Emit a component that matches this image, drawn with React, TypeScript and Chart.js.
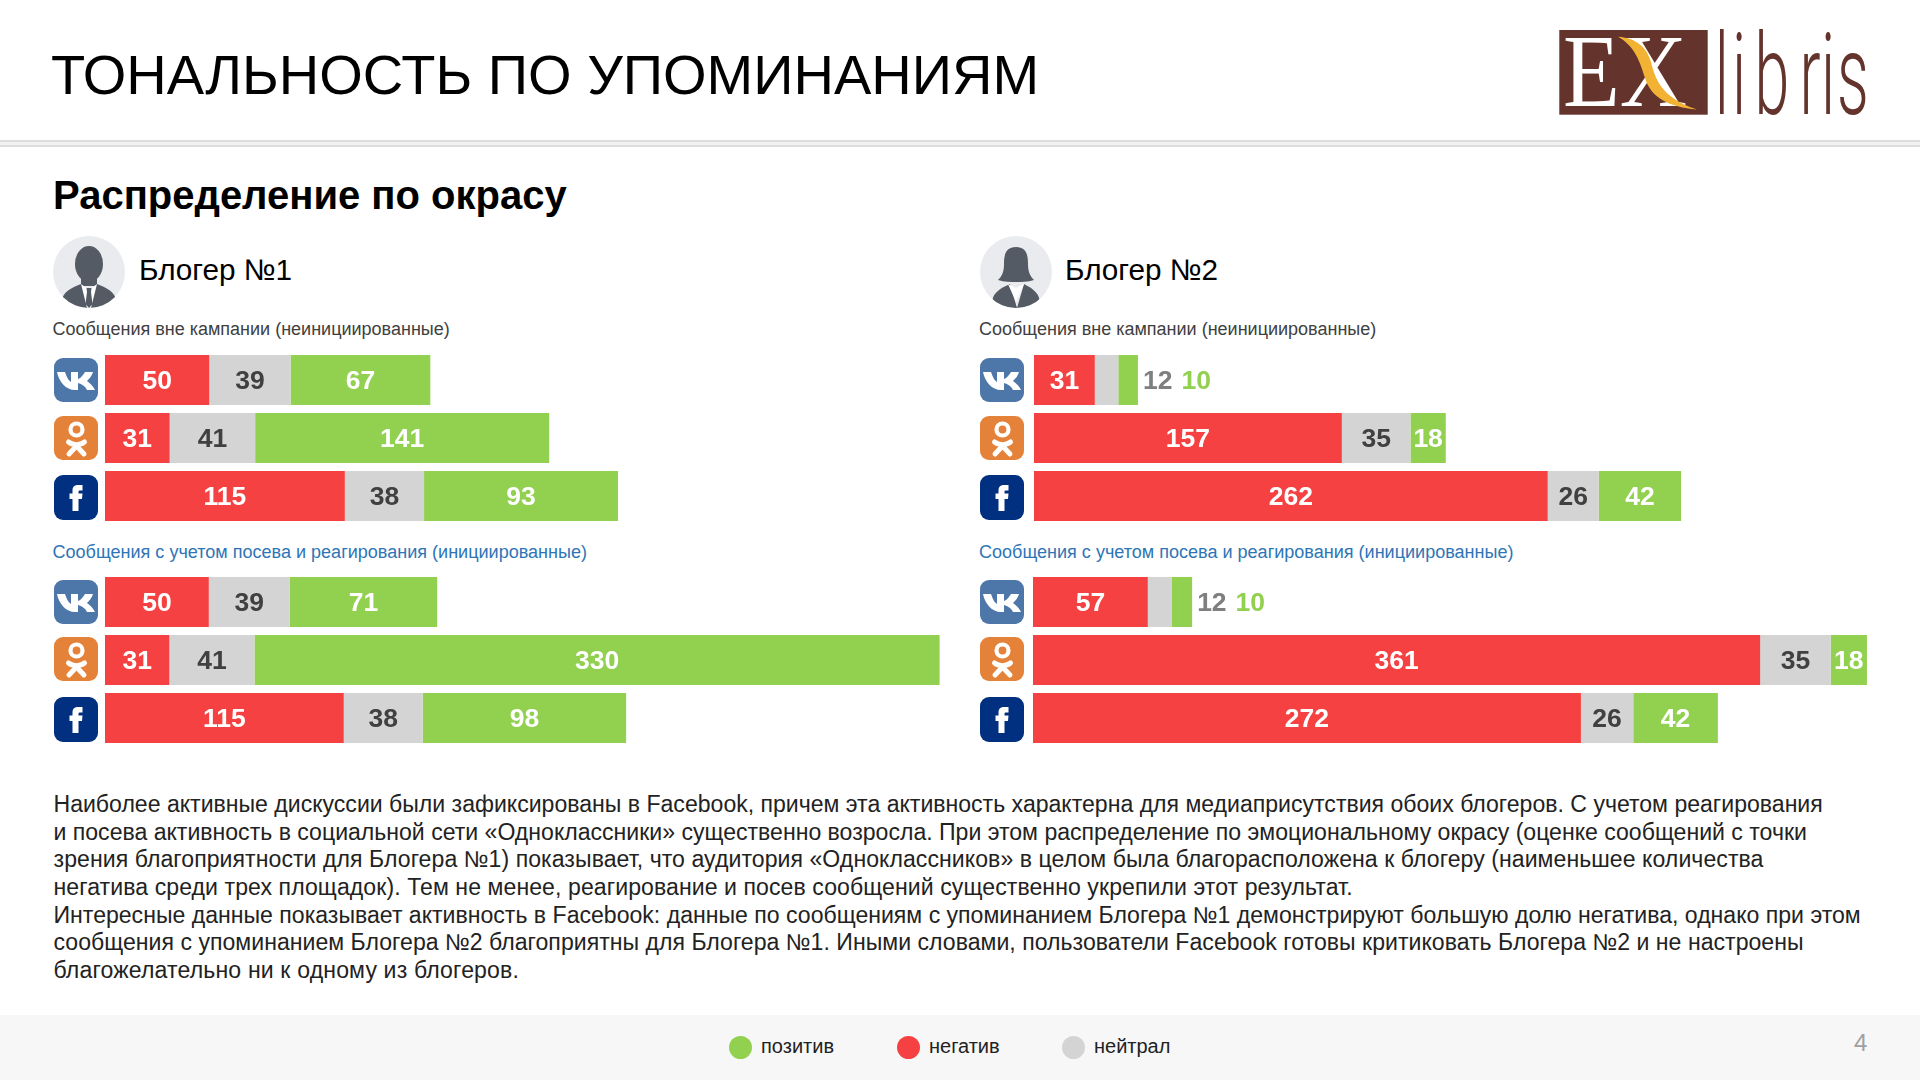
import React, { useEffect, useRef } from "react";
import { Chart, registerables } from "chart.js";

Chart.register(...registerables);

const FONT = '"Liberation Sans", Arial, sans-serif';

const platforms = ["ВКонтакте", "Одноклассники", "Facebook"];
const seriesNames = ["негатив", "нейтрал", "позитив"];
const seriesColors = ["#F54141", "#D4D4D4", "#92D050"];

const blogger1OrganicNegative = [50, 31, 115];
const blogger1OrganicNeutral = [39, 41, 38];
const blogger1OrganicPositive = [67, 141, 93];
const blogger1SeededNegative = [50, 31, 115];
const blogger1SeededNeutral = [39, 41, 38];
const blogger1SeededPositive = [71, 330, 98];

const blogger2OrganicNegative = [31, 157, 262];
const blogger2OrganicNeutral = [12, 35, 26];
const blogger2OrganicPositive = [10, 18, 42];
const blogger2SeededNegative = [57, 361, 272];
const blogger2SeededNeutral = [12, 35, 26];
const blogger2SeededPositive = [10, 18, 42];

const axisMaxes = [402.8, 404.6, 428.4, 417];

const paragraphLines = [
  "Наиболее активные дискуссии были зафиксированы в Facebook, причем эта активность характерна для медиаприсутствия обоих блогеров. С учетом реагирования",
  "и посева активность в социальной сети «Одноклассники» существенно возросла. При этом распределение по эмоциональному окрасу (оценке сообщений с точки",
  "зрения благоприятности для Блогера №1) показывает, что аудитория «Одноклассников» в целом была благорасположена к блогеру (наименьшее количества",
  "негатива среди трех площадок). Тем не менее, реагирование и посев сообщений существенно укрепили этот результат.",
  "Интересные данные показывает активность в Facebook: данные по сообщениям с упоминанием Блогера №1 демонстрируют большую долю негатива, однако при этом",
  "сообщения с упоминанием Блогера №2 благоприятны для Блогера №1. Иными словами, пользователи Facebook готовы критиковать Блогера №2 и не настроены",
  "благожелательно ни к одному из блогеров.",
];
const paragraphTracking = [0, 0, 0.06, 0.078, 0.005, 0.025, 0.15];

const insideLabelColors = ["#FFFFFF", "#404040", "#FFFFFF"];
const outsideLabelColors = ["#F54141", "#7F7F7F", "#92D050"];

const segmentLabels = {
  id: "segmentLabels",
  afterDatasetsDraw(chart: any) {
    const { ctx } = chart;
    ctx.save();
    ctx.font = `bold 26.5px ${FONT}`;
    ctx.textBaseline = "middle";
    platforms.forEach((_, row) => {
      let cursor = 0;
      chart.data.datasets.forEach((ds: any, di: number) => {
        const bar = chart.getDatasetMeta(di).data[row];
        cursor = Math.max(cursor, bar.x);
      });
      cursor += 5;
      chart.data.datasets.forEach((ds: any, di: number) => {
        const bar = chart.getDatasetMeta(di).data[row];
        const text = String(ds.data[row]);
        const w = Math.abs(bar.x - bar.base);
        if (w < 30) {
          ctx.textAlign = "left";
          ctx.fillStyle = outsideLabelColors[di];
          ctx.fillText(text, cursor, bar.y + 2);
          cursor += ctx.measureText(text).width + 9;
        } else {
          ctx.textAlign = "center";
          ctx.fillStyle = insideLabelColors[di];
          ctx.fillText(text, (bar.x + bar.base) / 2, bar.y + 2);
        }
      });
    });
    ctx.restore();
  },
};

function StackedBars(props: {
  left: number;
  top: number;
  negative: number[];
  neutral: number[];
  positive: number[];
  axisMax: number;
}) {
  const ref = useRef<HTMLCanvasElement>(null);
  useEffect(() => {
    if (!ref.current) return;
    const values = [props.negative, props.neutral, props.positive];
    const chart = new Chart(ref.current, {
      type: "bar",
      data: {
        labels: platforms,
        datasets: seriesNames.map((name, i) => ({
          label: name,
          data: values[i],
          backgroundColor: seriesColors[i],
          borderWidth: 0,
          barPercentage: 1,
          categoryPercentage: 0.862,
        })),
      },
      options: {
        indexAxis: "y",
        responsive: false,
        animation: false,
        layout: { padding: 0 },
        plugins: { legend: { display: false }, tooltip: { enabled: false } },
        scales: {
          x: { stacked: true, display: false, min: 0, max: props.axisMax },
          y: { stacked: true, display: false },
        },
      },
      plugins: [segmentLabels],
    } as any);
    return () => chart.destroy();
  }, []);
  return (
    <canvas
      ref={ref}
      width={840}
      height={174}
      style={{ position: "absolute", left: props.left, top: props.top, width: 840, height: 174 }}
    />
  );
}

function T(props: {
  x: number;
  base: number;
  size: number;
  color?: string;
  bold?: boolean;
  spacing?: number;
  children: React.ReactNode;
}) {
  return (
    <div
      style={{
        position: "absolute",
        left: props.x,
        top: props.base - props.size,
        height: props.size * 1.25,
        lineHeight: `${props.size * 1.25}px`,
        fontFamily: FONT,
        fontSize: props.size,
        fontWeight: props.bold ? 700 : 400,
        color: props.color ?? "#000",
        letterSpacing: props.spacing ?? 0,
        whiteSpace: "nowrap",
      }}
    >
      {props.children}
    </div>
  );
}

function VkIcon({ x, y }: { x: number; y: number }) {
  return (
    <svg style={{ position: "absolute", left: x, top: y }} width={44} height={44} viewBox="0 0 44 44">
      <rect x="0" y="0" width="44" height="44" rx="9" fill="#4D76A9" />
      <path
        d="M3 14 H11 C13 20 15 23 17 24 V14 H24 V21 C27 20 29 17 31 14 H39 C38 18 35 21 33 23 C36 25 39 28 41 32 H33 C31 28 28 26 24 25 V32 H21 C12 32 5 24 3 14 Z"
        fill="#FFFFFF"
      />
    </svg>
  );
}

function OkIcon({ x, y }: { x: number; y: number }) {
  return (
    <svg style={{ position: "absolute", left: x, top: y }} width={44} height={44} viewBox="0 0 44 44">
      <rect x="0" y="0" width="44" height="44" rx="9" fill="#E5823A" />
      <circle cx="22.5" cy="13.5" r="6" fill="none" stroke="#FFF" strokeWidth="4.2" />
      <path d="M14.5 26 C19 29.5 26 29.5 30.5 26" fill="none" stroke="#FFF" strokeWidth="5" strokeLinecap="round" />
      <path d="M22.5 30 L15 38 M22.5 30 L30 38" fill="none" stroke="#FFF" strokeWidth="5" strokeLinecap="round" />
    </svg>
  );
}

function FbIcon({ x, y }: { x: number; y: number }) {
  return (
    <svg style={{ position: "absolute", left: x, top: y }} width={44} height={45} viewBox="0 0 44 45">
      <rect x="0" y="0" width="44" height="45" rx="9" fill="#00307F" />
      <path
        d="M18.5 36 V24 H15.5 V18.5 H18.5 V15.5 C18.5 11.5 20.5 10 24.5 10 H28.5 V15.5 H26 C24.8 15.5 24.5 16 24.5 17 V18.5 H28.5 L28 24 H24.5 V36 Z"
        fill="#FFFFFF"
      />
    </svg>
  );
}

function IconColumn({ x, ys }: { x: number; ys: number[] }) {
  return (
    <>
      <VkIcon x={x} y={ys[0]} />
      <OkIcon x={x} y={ys[1]} />
      <FbIcon x={x} y={ys[2]} />
    </>
  );
}

function Avatar({ x, female }: { x: number; female?: boolean }) {
  const ink = "#545B65";
  const paper = "#E9EBEE";
  const id = female ? "av2" : "av1";
  return (
    <svg style={{ position: "absolute", left: x, top: 235.7 }} width={72} height={72} viewBox="0 0 72 72">
      <defs>
        <clipPath id={id}>
          <circle cx="36" cy="36" r="36" />
        </clipPath>
      </defs>
      <circle cx="36" cy="36" r="36" fill={paper} />
      <g clipPath={`url(#${id})`}>
        {female ? (
          <>
            <path d="M36 11 C26 11 24 18 24 28 C24 36 22 40 18 44 C24 46 31 46 36 46 C41 46 48 46 54 44 C50 40 48 36 48 28 C48 18 46 11 36 11 Z" fill={ink} />
            <path d="M12 68 C12 58 18 53 30 48 L37 72 L44 48 C54 53 60 58 60 68 C52 76 20 76 12 68 Z" fill={ink} />
            <path d="M28 48 L36 66 L44 48 L36 52 Z" fill="#FFFFFF" />
          </>
        ) : (
          <>
            <ellipse cx="36" cy="28" rx="14" ry="18" fill={ink} />
            <path d="M28 40 H44 V50 H28 Z" fill={ink} />
            <path d="M9 64 C10 56 18 52 28 48 L36 58 L44 48 C54 52 62 56 63 64 C52 76 20 76 9 64 Z" fill={ink} />
            <path d="M28 48 L34 72 H38 L44 48 L36 54 Z" fill="#FFFFFF" />
            <path d="M33.5 52 H38.5 L38 56 L39.5 68 L36 72 L32.5 68 L34 56 Z" fill={ink} />
          </>
        )}
      </g>
    </svg>
  );
}

function Logo() {
  const scale = 0.55;
  const centres = [166.7, 184, 217, 255, 273, 298].map((c) => c / scale).join(" ");
  return (
    <svg style={{ position: "absolute", left: 1555, top: 26 }} width={320} height={94} viewBox="0 0 320 94">
      <rect x="4.3" y="4" width="148.4" height="84.7" fill="#63332C" />
      <text x="8" y="80" fontFamily='"Liberation Serif", serif' fontSize="104" fill="#FFFFFF" textLength="124" lengthAdjust="spacingAndGlyphs">
        EX
      </text>
      <path d="M63 10.7 C82 12 92 22 96 36 C100 52 106 72 142 83.5 C114 81 96 72 90 52 C85 36 80 20 63 10.7 Z" fill="#F2B233" />
      <g transform={`scale(${scale} 1)`}>
        <text
          x={centres}
          y="88"
          textAnchor="middle"
          fontFamily="Roboto, sans-serif"
          fontWeight="300"
          fontSize="114"
          fill="#63332C"
        >
          libris
        </text>
      </g>
    </svg>
  );
}

function LegendEntry({ x, color, textX, label }: { x: number; color: string; textX: number; label: string }) {
  return (
    <>
      <div
        style={{
          position: "absolute",
          left: x - 11.5,
          top: 1035.5,
          width: 23,
          height: 23,
          borderRadius: "50%",
          background: color,
        }}
      />
      <T x={textX} base={1054} size={20} color="#222">
        {label}
      </T>
    </>
  );
}

export default function App() {
  const rowsTop = [358.3, 415.7, 474.5];
  const rowsBottom = [579.7, 637, 696.8];
  return (
    <div
      style={{
        position: "absolute",
        left: 0,
        top: 0,
        width: 1920,
        height: 1080,
        background: "#FFFFFF",
        overflow: "hidden",
      }}
    >
      <T x={51} base={96} size={56}>
        ТОНАЛЬНОСТЬ ПО УПОМИНАНИЯМ
      </T>
      <Logo />
      <div style={{ position: "absolute", left: 0, top: 140, width: 1920, height: 2, background: "#DDDDDD" }} />
      <div style={{ position: "absolute", left: 0, top: 142, width: 1920, height: 3, background: "#F1F1F1" }} />
      <div style={{ position: "absolute", left: 0, top: 145, width: 1920, height: 2, background: "#DDDDDD" }} />

      <T x={53} base={209.5} size={40}>
        <b>Распределение по окрасу</b>
      </T>

      <Avatar x={52.7} />
      <T x={139} base={280.5} size={29.7}>
        Блогер №1
      </T>
      <Avatar x={979.5} female />
      <T x={1065} base={280.5} size={29.7}>
        Блогер №2
      </T>

      <T x={52.5} base={336.2} size={18} color="#404040">
        Сообщения вне кампании (неинициированные)
      </T>
      <T x={979} base={336.2} size={18} color="#404040">
        Сообщения вне кампании (неинициированные)
      </T>
      <T x={52.5} base={559.2} size={18.05} color="#2E75B6">
        Сообщения с учетом посева и реагирования (инициированные)
      </T>
      <T x={979} base={559.2} size={18.05} color="#2E75B6">
        Сообщения с учетом посева и реагирования (инициированные)
      </T>

      <IconColumn x={53.5} ys={rowsTop} />
      <IconColumn x={53.5} ys={rowsBottom} />
      <IconColumn x={979.7} ys={rowsTop} />
      <IconColumn x={979.7} ys={rowsBottom} />

      <StackedBars left={104.7} top={351.3} negative={blogger1OrganicNegative} neutral={blogger1OrganicNeutral} positive={blogger1OrganicPositive} axisMax={axisMaxes[0]} />
      <StackedBars left={104.7} top={572.8} negative={blogger1SeededNegative} neutral={blogger1SeededNeutral} positive={blogger1SeededPositive} axisMax={axisMaxes[1]} />
      <StackedBars left={1034.1} top={351.3} negative={blogger2OrganicNegative} neutral={blogger2OrganicNeutral} positive={blogger2OrganicPositive} axisMax={axisMaxes[2]} />
      <StackedBars left={1032.9} top={572.8} negative={blogger2SeededNegative} neutral={blogger2SeededNeutral} positive={blogger2SeededPositive} axisMax={axisMaxes[3]} />

      {paragraphLines.map((line, i) => (
        <T key={i} x={53.5} base={813.2 + i * 27.66} size={23.07} color="#222222" spacing={paragraphTracking[i]}>
          {line}
        </T>
      ))}

      <div style={{ position: "absolute", left: 0, top: 1014.5, width: 1920, height: 65.5, background: "#F7F7F7" }} />
      <LegendEntry x={740} color={seriesColors[2]} textX={761} label={seriesNames[2]} />
      <LegendEntry x={908} color={seriesColors[0]} textX={929} label={seriesNames[0]} />
      <LegendEntry x={1073} color={seriesColors[1]} textX={1094} label={seriesNames[1]} />
      <T x={1854} base={1052} size={24} color="#A0A0A0">
        4
      </T>
    </div>
  );
}
